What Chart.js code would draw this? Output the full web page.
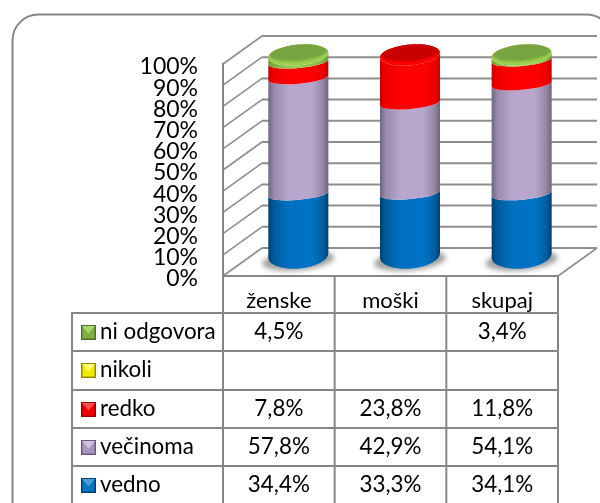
<!DOCTYPE html>
<html>
<head>
<meta charset="utf-8">
<style>html,body{margin:0;padding:0;background:#fff;overflow:hidden}canvas{display:block}</style>
<script src="https://cdn.jsdelivr.net/npm/chart.js@4/dist/chart.umd.min.js"></script>
</head>
<body>
<canvas id="c" width="600" height="503"></canvas>
<script>
const categories = ['ženske', 'moški', 'skupaj'];
const seriesNames = ['vedno', 'večinoma', 'redko', 'nikoli', 'ni odgovora'];
const vedno = [34.4, 33.3, 34.1];
const vecinoma = [57.8, 42.9, 54.1];
const redko = [7.8, 23.8, 11.8];
const nikoli = [null, null, null];
const niOdgovora = [4.5, null, 3.4];
const seriesValues = [vedno, vecinoma, redko, nikoli, niOdgovora];
const tickStep = 10;

const GRID = '#868686';
const FONT = 'Lato, "Open Sans", sans-serif';
const sideStops = [
  [['#00406e', 0], ['#005c9e', .1], ['#0070c0', .35], ['#0072c4', .75], ['#005c9c', .92], ['#003f6c', 1]],
  [['#6f6480', 0], ['#9a8bad', .1], ['#b8a6cd', .35], ['#b8a6cd', .72], ['#958aa6', .9], ['#6f6480', 1]],
  [['#c80000', 0], ['#f00000', .1], ['#ff0000', .35], ['#ff0000', .75], ['#ec0000', .92], ['#c40000', 1]],
  [['#cfc800', 0], ['#f0e800', .2], ['#ffff00', .5], ['#f0e800', .8], ['#cfc800', 1]],
  [['#6f9a3a', 0], ['#86b845', .15], ['#9bd04f', .5], ['#86b845', .85], ['#6f9a3a', 1]]
];
const capColors = [['#0070c0','#005c9e'],['#b8a6cd','#9a8bad'],['#ff0000','#c80000'],['#ffff00','#d0c800'],['#9ccf50','#76a540']];
const keyColors = [
  ['#0a74c0','#005a9c','#4a9bd8','#003f6c'],
  ['#a896bd','#8b7ba0','#cfc2de','#675a78'],
  ['#f00000','#c80000','#ff5050','#9a0000'],
  ['#f2ea00','#c4bc00','#ffff70','#8f8a00'],
  ['#7db044','#64923a','#a8d868','#4c7028']
];
const rowY = [339, 377, 416, 454, 492];
const hLines = [313, 351, 390, 428, 466];

const DX = 19.5, DY = -13, K = 2.1 / 2.12, ROT = -0.09;

function line(ctx, x1, y1, x2, y2, w) {
  ctx.lineWidth = w; ctx.beginPath(); ctx.moveTo(x1, y1); ctx.lineTo(x2, y2); ctx.stroke();
}

const scene = {
  id: 'scene',
  beforeDatasetDraw() { return false; },
  beforeDraw(chart) {
    const ctx = chart.ctx;
    ctx.save();
    ctx.fillStyle = '#fff'; ctx.fillRect(0, 0, 600, 503);
    ctx.strokeStyle = GRID;
    ctx.lineWidth = 2;
    ctx.beginPath(); ctx.roundRect(12.5, 14.5, 600, 620, 26); ctx.stroke();
    ctx.restore();
  },
  beforeDatasetsDraw(chart) {
    const ctx = chart.ctx, y = chart.scales.y, a = chart.chartArea;
    ctx.save();
    ctx.strokeStyle = '#8e8e8e';
    const dx = 39, dy = -28, endX = 597;
    y.ticks.forEach(t => {
      const py = y.getPixelForValue(t.value);
      line(ctx, a.left, py, a.left + dx, py + dy, 1.6);
      line(ctx, a.left + dx, py + dy, endX, py + dy, 2);
    });
    const y0 = y.getPixelForValue(0);
    ctx.strokeStyle = GRID;
    line(ctx, a.left, y.getPixelForValue(100) - 1, a.left, y0, 2);
    line(ctx, a.left, y0, a.right, y0, 2);
    ctx.strokeStyle = '#8e8e8e';
    line(ctx, a.right, y0, endX, y0 + dy, 1.6);
    ctx.restore();
  },
  afterDatasetsDraw(chart) {
    const ctx = chart.ctx, y = chart.scales.y;
    const zero = y.getPixelForValue(0), full = y.getPixelForValue(100);
    const metas = seriesValues.map((_, i) => chart.getDatasetMeta(i));
    categories.forEach((_, c) => {
      const total = seriesValues.reduce((s, arr) => s + (arr[c] || 0), 0);
      const plane = py => zero + DY - (zero - py) * K * 100 / total;
      const bar0 = metas[0].data[c];
      const cx = bar0.x + DX, half = bar0.width / 2, rx = half;
      const base = { y: plane(zero) - 7.5, b: 13 };
      // shadow
      ctx.save();
      ctx.filter = 'blur(2.5px)';
      ctx.fillStyle = 'rgba(70,70,70,.5)';
      ctx.beginPath(); ctx.ellipse(cx, base.y + 5, rx + 6, 10, ROT, 0, Math.PI * 2); ctx.fill();
      ctx.restore();
      // stacked sides
      let lower = base, topIdx = -1, topEdge = null;
      seriesValues.forEach((arr, i) => {
        if (!arr[c]) return;
        const el = metas[i].data[c];
        const py = plane(el.y);
        const isTop = Math.abs(zero + DY - py - (zero - full) * K) < .5;
        const upper = isTop ? { y: py + 2, b: 10.5 } : { y: py, b: 6 };
        const g = ctx.createLinearGradient(cx - half, 0, cx + half, 0);
        sideStops[i].forEach(s => g.addColorStop(s[1], s[0]));
        ctx.fillStyle = g;
        ctx.beginPath();
        ctx.ellipse(cx, upper.y, rx, upper.b, ROT, Math.PI, 0, true);
        ctx.ellipse(cx, lower.y, rx, lower.b, ROT, 0, Math.PI, false);
        ctx.closePath(); ctx.fill();
        lower = upper; topIdx = i; topEdge = upper;
      });
      // top cap
      const col = capColors[topIdx];
      ctx.fillStyle = col[0];
      ctx.beginPath(); ctx.ellipse(cx, topEdge.y, rx, topEdge.b, ROT, 0, Math.PI * 2); ctx.fill();
      ctx.save();
      ctx.beginPath(); ctx.ellipse(cx, topEdge.y, rx, topEdge.b, ROT, 0, Math.PI * 2); ctx.clip();
      ctx.filter = 'blur(1.2px)';
      ctx.fillStyle = col[1];
      ctx.beginPath(); ctx.ellipse(cx, topEdge.y - 3, rx - 0.5, topEdge.b - 1.5, ROT, 0, Math.PI * 2); ctx.fill();
      ctx.restore();
    });
  },
  afterDraw(chart) {
    const ctx = chart.ctx, x = chart.scales.x;
    const a = chart.chartArea;
    ctx.save();
    ctx.strokeStyle = GRID;
    const colX = [a.left, x.getPixelForValue(0) + (x.getPixelForValue(1) - x.getPixelForValue(0)) / 2,
                  x.getPixelForValue(1) + (x.getPixelForValue(2) - x.getPixelForValue(1)) / 2, a.right];
    colX.forEach(v => line(ctx, v, a.bottom, v, 503, 2));
    line(ctx, 72, hLines[0], 72, 503, 2);
    hLines.forEach(v => line(ctx, 71, v, a.right + 1, v, 2));
    ctx.textBaseline = 'alphabetic';
    const names = seriesNames.slice().reverse();
    const vals = seriesValues.slice().reverse();
    const keys = keyColors.slice().reverse();
    names.forEach((n, r) => {
      const by = rowY[r];
      ctx.font = '22.4px ' + FONT;
      ctx.textAlign = 'left'; ctx.fillStyle = '#000';
      ctx.fillText(n, 100, by);
      vals[r].forEach((v, c) => {
        if (v == null) return;
        ctx.textAlign = 'center';
        ctx.fillText(v.toFixed(1).replace('.', ',') + '%', x.getPixelForValue(c), by);
      });
      const kx = 81, ky = by - 14, s = 15, k = keys[r];
      ctx.fillStyle = k[3]; ctx.fillRect(kx, ky, s, s);
      ctx.fillStyle = k[1]; ctx.fillRect(kx + 1, ky + 1, s - 2, s - 2);
      ctx.fillStyle = k[0]; ctx.fillRect(kx + 2, ky + 2, s - 4, s - 4);
      ctx.fillStyle = k[2];
      ctx.beginPath(); ctx.moveTo(kx + 1, ky + 1); ctx.lineTo(kx + s - 1, ky + 1); ctx.lineTo(kx + s / 2, ky + s / 2 + 1); ctx.closePath(); ctx.fill();
    });
    ctx.restore();
  }
};

new Chart(document.getElementById('c'), {
  type: 'bar',
  data: {
    labels: categories,
    datasets: seriesNames.map((n, i) => ({ label: n, data: seriesValues[i], backgroundColor: capColors[i][0] }))
  },
  plugins: [scene],
  options: {
    responsive: false,
    animation: false,
    events: [],
    layout: { autoPadding: false, padding: { left: 0, top: 64, right: 42, bottom: 0 } },
    plugins: { legend: { display: false }, tooltip: { enabled: false }, title: { display: false } },
    datasets: { bar: { barPercentage: 0.54, categoryPercentage: 1 } },
    scales: {
      x: {
        stacked: true,
        grid: { display: false, drawTicks: false },
        border: { display: false },
        afterFit(s) { s.height = 227; },
        ticks: { padding: 12, color: '#000', font: { family: FONT, size: 22 }, maxRotation: 0 }
      },
      y: {
        stacked: true, min: 0, max: 100,
        grid: { display: false, drawTicks: false },
        border: { display: false },
        afterFit(s) { s.width = 223; },
        ticks: { stepSize: tickStep, autoSkip: false, padding: 25, labelOffset: 3, color: '#000', font: { family: FONT, size: 23, lineHeight: 1 }, callback: v => v + '%' }
      }
    }
  }
});
</script>
</body>
</html>
